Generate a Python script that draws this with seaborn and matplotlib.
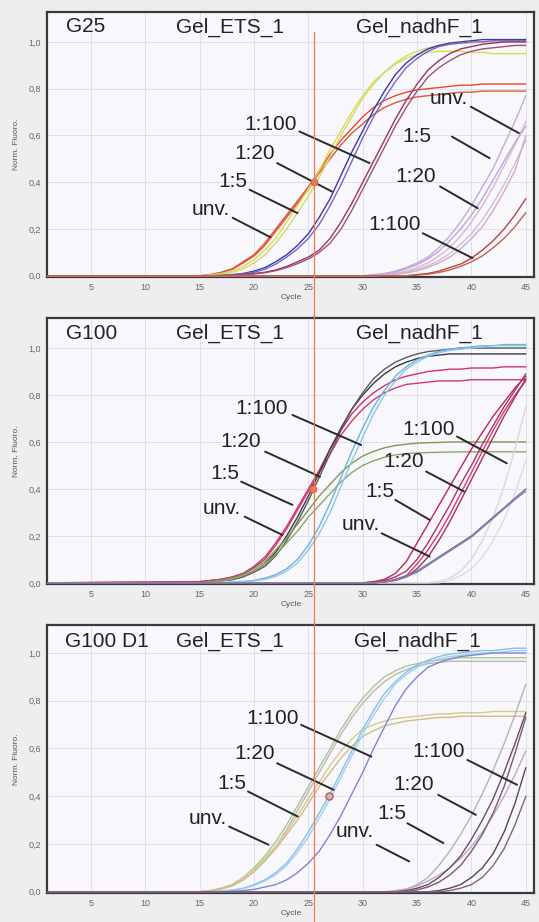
import matplotlib
matplotlib.use("Agg")
import matplotlib.pyplot as plt
from matplotlib.lines import Line2D
from matplotlib.transforms import blended_transform_factory
import pandas as pd
import seaborn as sns

# ---------------- data ----------------
ETS_CYCLES = list(range(15, 46))      # cycles for Gel_ETS_1 curves
NAD_CYCLES = list(range(30, 46))      # cycles for Gel_nadhF_1 curves
BASE_CYCLE = 1                        # flat baseline before the listed cycles

X_TICKS = [5, 10, 15, 20, 25, 30, 35, 40, 45]
Y_TICKS = [0.0, 0.2, 0.4, 0.6, 0.8, 1.0]
Y_TICK_LABELS = ["0,0", "0,2", "0,4", "0,6", "0,8", "1,0"]
THRESHOLD_CYCLE = 25.55
DILUTIONS = ["1:100", "1:20", "1:5", "unv."]

# ---- G25 ----
g25_ets_unv_a = [0.00, 0.005, 0.015, 0.03, 0.06, 0.09, 0.14, 0.20, 0.26, 0.32, 0.38, 0.45, 0.52, 0.58, 0.63, 0.68, 0.72, 0.75, 0.77, 0.785, 0.795, 0.80, 0.805, 0.81, 0.815, 0.815, 0.82, 0.82, 0.82, 0.82, 0.82]
g25_ets_unv_b = [0.00, 0.005, 0.013, 0.028, 0.055, 0.085, 0.13, 0.19, 0.25, 0.31, 0.37, 0.44, 0.50, 0.56, 0.61, 0.65, 0.69, 0.72, 0.74, 0.755, 0.765, 0.77, 0.775, 0.78, 0.785, 0.785, 0.79, 0.79, 0.79, 0.79, 0.79]
g25_ets_15_a = [0.00, 0.003, 0.01, 0.02, 0.04, 0.07, 0.11, 0.16, 0.23, 0.30, 0.37, 0.45, 0.54, 0.62, 0.70, 0.77, 0.83, 0.87, 0.905, 0.93, 0.945, 0.955, 0.96, 0.96, 0.96, 0.955, 0.955, 0.95, 0.95, 0.95, 0.95]
g25_ets_15_b = [0.00, 0.002, 0.007, 0.015, 0.03, 0.055, 0.09, 0.14, 0.20, 0.27, 0.34, 0.42, 0.51, 0.60, 0.68, 0.76, 0.82, 0.87, 0.91, 0.94, 0.96, 0.975, 0.985, 0.99, 0.995, 0.995, 1.0, 1.0, 1.0, 1.0, 1.0]
g25_ets_120_a = [0.00, 0.00, 0.002, 0.005, 0.01, 0.02, 0.035, 0.06, 0.09, 0.13, 0.18, 0.25, 0.33, 0.43, 0.53, 0.62, 0.71, 0.79, 0.86, 0.91, 0.945, 0.97, 0.985, 0.995, 1.0, 1.005, 1.01, 1.01, 1.01, 1.01, 1.01]
g25_ets_120_b = [0.00, 0.00, 0.001, 0.004, 0.008, 0.015, 0.028, 0.05, 0.08, 0.115, 0.16, 0.22, 0.30, 0.39, 0.49, 0.59, 0.68, 0.76, 0.83, 0.89, 0.93, 0.96, 0.98, 0.99, 0.995, 1.0, 1.0, 1.005, 1.005, 1.005, 1.005]
g25_ets_1100_a = [0.00, 0.00, 0.00, 0.002, 0.005, 0.01, 0.015, 0.025, 0.04, 0.06, 0.08, 0.11, 0.16, 0.23, 0.31, 0.40, 0.49, 0.58, 0.67, 0.75, 0.82, 0.88, 0.92, 0.95, 0.97, 0.98, 0.99, 0.995, 1.0, 1.0, 1.0]
g25_ets_1100_b = [0.00, 0.00, 0.00, 0.002, 0.004, 0.008, 0.013, 0.022, 0.035, 0.052, 0.072, 0.10, 0.14, 0.20, 0.28, 0.37, 0.46, 0.55, 0.64, 0.72, 0.79, 0.85, 0.89, 0.92, 0.945, 0.96, 0.97, 0.975, 0.98, 0.985, 0.985]
g25_nad_a = [0.0, 0.005, 0.01, 0.02, 0.035, 0.055, 0.08, 0.12, 0.17, 0.23, 0.30, 0.38, 0.46, 0.56, 0.66, 0.77]
g25_nad_b = [0.0, 0.0, 0.005, 0.01, 0.02, 0.035, 0.055, 0.085, 0.12, 0.17, 0.23, 0.30, 0.38, 0.47, 0.56, 0.66]
g25_nad_c = [0.0, 0.003, 0.008, 0.016, 0.03, 0.048, 0.072, 0.105, 0.15, 0.20, 0.26, 0.33, 0.41, 0.49, 0.57, 0.64]
g25_nad_d = [0.0, 0.0, 0.003, 0.008, 0.015, 0.027, 0.043, 0.065, 0.095, 0.135, 0.18, 0.24, 0.31, 0.39, 0.48, 0.58]
g25_nad_e = [0.0, 0.0, 0.002, 0.006, 0.012, 0.022, 0.036, 0.055, 0.08, 0.115, 0.16, 0.21, 0.28, 0.36, 0.45, 0.60]
g25_nad_1100_a = [0.0, 0.0, 0.0, 0.0, 0.0, 0.005, 0.01, 0.02, 0.035, 0.05, 0.075, 0.11, 0.15, 0.20, 0.26, 0.33]
g25_nad_1100_b = [0.0, 0.0, 0.0, 0.0, 0.0, 0.003, 0.007, 0.014, 0.025, 0.04, 0.06, 0.085, 0.12, 0.16, 0.21, 0.27]

# ---- G100 ----
g100_ets_pink_a = [0.005, 0.01, 0.015, 0.025, 0.04, 0.07, 0.11, 0.17, 0.24, 0.32, 0.40, 0.48, 0.57, 0.65, 0.72, 0.77, 0.81, 0.84, 0.865, 0.88, 0.89, 0.90, 0.905, 0.91, 0.91, 0.915, 0.915, 0.915, 0.92, 0.92, 0.92]
g100_ets_pink_b = [0.005, 0.01, 0.015, 0.025, 0.04, 0.065, 0.10, 0.16, 0.23, 0.31, 0.39, 0.47, 0.55, 0.63, 0.69, 0.74, 0.78, 0.81, 0.83, 0.845, 0.85, 0.855, 0.86, 0.86, 0.86, 0.865, 0.865, 0.865, 0.865, 0.865, 0.865]
g100_ets_black_a = [0.0, 0.005, 0.01, 0.015, 0.03, 0.05, 0.08, 0.13, 0.20, 0.28, 0.37, 0.47, 0.57, 0.66, 0.74, 0.80, 0.85, 0.89, 0.92, 0.94, 0.955, 0.965, 0.97, 0.975, 0.975, 0.975, 0.975, 0.975, 0.975, 0.975, 0.975]
g100_ets_black_b = [0.0, 0.004, 0.008, 0.013, 0.025, 0.045, 0.07, 0.115, 0.18, 0.26, 0.35, 0.45, 0.55, 0.65, 0.74, 0.81, 0.87, 0.91, 0.94, 0.96, 0.975, 0.985, 0.99, 0.995, 1.0, 1.0, 1.0, 1.0, 1.0, 1.0, 1.0]
g100_ets_green_a = [0.0, 0.005, 0.01, 0.02, 0.035, 0.06, 0.09, 0.14, 0.19, 0.25, 0.31, 0.37, 0.42, 0.47, 0.51, 0.54, 0.56, 0.575, 0.585, 0.59, 0.595, 0.597, 0.598, 0.6, 0.6, 0.6, 0.6, 0.6, 0.6, 0.6, 0.6]
g100_ets_green_b = [0.0, 0.004, 0.008, 0.016, 0.03, 0.05, 0.08, 0.12, 0.17, 0.22, 0.28, 0.33, 0.38, 0.43, 0.47, 0.50, 0.52, 0.535, 0.545, 0.55, 0.553, 0.555, 0.556, 0.557, 0.558, 0.558, 0.558, 0.558, 0.558, 0.558, 0.558]
g100_ets_blue_a = [0.0, 0.0, 0.0, 0.003, 0.006, 0.01, 0.02, 0.035, 0.06, 0.10, 0.16, 0.24, 0.34, 0.45, 0.56, 0.66, 0.75, 0.82, 0.88, 0.92, 0.95, 0.97, 0.985, 0.995, 1.0, 1.005, 1.01, 1.01, 1.015, 1.015, 1.015]
g100_ets_blue_b = [0.0, 0.0, 0.0, 0.002, 0.005, 0.008, 0.015, 0.028, 0.05, 0.085, 0.14, 0.21, 0.30, 0.41, 0.52, 0.62, 0.72, 0.80, 0.86, 0.91, 0.94, 0.965, 0.98, 0.99, 0.995, 1.0, 1.005, 1.01, 1.01, 1.01, 1.01]
g100_nad_red_a = [0.0, 0.005, 0.015, 0.04, 0.09, 0.17, 0.25, 0.33, 0.41, 0.49, 0.57, 0.64, 0.71, 0.77, 0.83, 0.88]
g100_nad_red_b = [0.0, 0.003, 0.01, 0.025, 0.05, 0.10, 0.17, 0.25, 0.33, 0.42, 0.50, 0.59, 0.67, 0.75, 0.82, 0.89]
g100_nad_red_c = [0.0, 0.0, 0.005, 0.012, 0.03, 0.08, 0.14, 0.21, 0.29, 0.38, 0.47, 0.56, 0.65, 0.73, 0.80, 0.86]
g100_nad_red_d = [0.0, 0.0, 0.004, 0.01, 0.025, 0.06, 0.11, 0.18, 0.26, 0.35, 0.44, 0.53, 0.62, 0.71, 0.79, 0.87]
g100_nad_gray_a = [0.0, 0.0, 0.005, 0.015, 0.03, 0.05, 0.08, 0.11, 0.14, 0.17, 0.20, 0.24, 0.28, 0.32, 0.36, 0.40]
g100_nad_gray_b = [0.0, 0.0, 0.004, 0.012, 0.025, 0.045, 0.075, 0.105, 0.135, 0.165, 0.195, 0.235, 0.275, 0.315, 0.355, 0.39]
g100_nad_faint_a = [0.0, 0.0, 0.0, 0.0, 0.0, 0.0, 0.0, 0.005, 0.02, 0.05, 0.10, 0.18, 0.28, 0.41, 0.57, 0.75]
g100_nad_faint_b = [0.0, 0.0, 0.0, 0.0, 0.0, 0.0, 0.0, 0.0, 0.01, 0.03, 0.06, 0.11, 0.18, 0.27, 0.38, 0.52]

# ---- G100 D1 ----
d1_ets_green_a = [0.0, 0.005, 0.015, 0.03, 0.06, 0.10, 0.15, 0.21, 0.28, 0.36, 0.44, 0.52, 0.60, 0.68, 0.75, 0.81, 0.86, 0.90, 0.925, 0.945, 0.955, 0.965, 0.97, 0.975, 0.98, 0.98, 0.98, 0.98, 0.98, 0.98, 0.98]
d1_ets_gray_b = [0.0, 0.004, 0.012, 0.025, 0.05, 0.085, 0.13, 0.19, 0.26, 0.34, 0.42, 0.50, 0.58, 0.66, 0.73, 0.79, 0.84, 0.88, 0.91, 0.93, 0.945, 0.955, 0.96, 0.965, 0.965, 0.965, 0.965, 0.965, 0.965, 0.965, 0.965]
d1_ets_tan_a = [0.0, 0.005, 0.015, 0.03, 0.06, 0.095, 0.14, 0.19, 0.25, 0.32, 0.39, 0.46, 0.53, 0.59, 0.64, 0.68, 0.70, 0.715, 0.725, 0.73, 0.735, 0.74, 0.745, 0.745, 0.75, 0.75, 0.75, 0.755, 0.755, 0.755, 0.755]
d1_ets_tan_b = [0.0, 0.004, 0.012, 0.025, 0.05, 0.085, 0.13, 0.18, 0.24, 0.30, 0.37, 0.44, 0.50, 0.56, 0.61, 0.65, 0.675, 0.695, 0.705, 0.715, 0.72, 0.725, 0.73, 0.73, 0.735, 0.735, 0.735, 0.735, 0.735, 0.735, 0.735]
d1_ets_blue_a = [0.0, 0.0, 0.003, 0.007, 0.015, 0.03, 0.05, 0.08, 0.12, 0.18, 0.25, 0.33, 0.41, 0.50, 0.59, 0.68, 0.76, 0.83, 0.88, 0.92, 0.95, 0.97, 0.985, 0.995, 1.0, 1.005, 1.01, 1.01, 1.015, 1.02, 1.02]
d1_ets_blue_b = [0.0, 0.0, 0.002, 0.006, 0.013, 0.026, 0.045, 0.072, 0.11, 0.165, 0.23, 0.31, 0.39, 0.48, 0.57, 0.66, 0.74, 0.81, 0.87, 0.91, 0.94, 0.96, 0.975, 0.985, 0.99, 0.995, 1.0, 1.0, 1.005, 1.01, 1.01]
d1_ets_peri = [0.0, 0.0, 0.0, 0.002, 0.005, 0.01, 0.02, 0.03, 0.05, 0.08, 0.12, 0.17, 0.24, 0.32, 0.41, 0.50, 0.60, 0.69, 0.78, 0.85, 0.90, 0.94, 0.96, 0.975, 0.985, 0.99, 0.995, 1.0, 1.0, 1.0, 1.0]
d1_nad_a = [0.0, 0.0, 0.0, 0.0, 0.01, 0.03, 0.06, 0.11, 0.17, 0.24, 0.32, 0.41, 0.51, 0.62, 0.74, 0.87]
d1_nad_b = [0.0, 0.0, 0.0, 0.0, 0.005, 0.015, 0.03, 0.06, 0.10, 0.15, 0.22, 0.30, 0.39, 0.50, 0.62, 0.75]
d1_nad_c = [0.0, 0.0, 0.0, 0.0, 0.0, 0.008, 0.02, 0.04, 0.07, 0.11, 0.17, 0.24, 0.33, 0.44, 0.58, 0.73]
d1_nad_d = [0.0, 0.0, 0.0, 0.0, 0.0, 0.0, 0.0, 0.005, 0.015, 0.03, 0.06, 0.10, 0.16, 0.25, 0.37, 0.52]
d1_nad_e = [0.0, 0.0, 0.0, 0.0, 0.0, 0.0, 0.0, 0.0, 0.005, 0.015, 0.03, 0.06, 0.11, 0.18, 0.28, 0.40]
d1_nad_f = [0.0, 0.0, 0.0, 0.005, 0.012, 0.025, 0.045, 0.07, 0.10, 0.14, 0.19, 0.25, 0.32, 0.40, 0.49, 0.59]

# threshold-crossing markers (cycle, value)
marker_cycles = [25.5, 25.45, 26.9]
marker_values = [0.40, 0.40, 0.40]

# ---------------- styles ----------------
panels = [
    dict(title="G25", ets=[(g25_ets_unv_a, "#e8482c"), (g25_ets_unv_b, "#d65a3e"),
                           (g25_ets_15_a, "#dcdc48"), (g25_ets_15_b, "#d2d870"),
                           (g25_ets_120_a, "#3a3aa8"), (g25_ets_120_b, "#7868c8"),
                           (g25_ets_1100_a, "#9a3466"), (g25_ets_1100_b, "#a05080")],
         nad=[(g25_nad_a, "#c8a8dc"), (g25_nad_b, "#e0b4cc"), (g25_nad_c, "#b8a8e0"),
              (g25_nad_d, "#dcb8d8"), (g25_nad_e, "#c8b0c8"),
              (g25_nad_1100_a, "#b8443c"), (g25_nad_1100_b, "#c86050")]),
    dict(title="G100", ets=[(g100_ets_pink_a, "#d6306a"), (g100_ets_pink_b, "#cc3a74"),
                            (g100_ets_black_a, "#3c3c3c"), (g100_ets_black_b, "#5a5a5a"),
                            (g100_ets_green_a, "#7c9a52"), (g100_ets_green_b, "#8aa862"),
                            (g100_ets_blue_a, "#6ab4e0"), (g100_ets_blue_b, "#8cc8ea")],
         nad=[(g100_nad_faint_a, "#dcd4e4"), (g100_nad_faint_b, "#e0d8e6"),
              (g100_nad_red_a, "#c42454"), (g100_nad_red_b, "#b03462"),
              (g100_nad_red_c, "#d0406e"), (g100_nad_red_d, "#a8305a"),
              (g100_nad_gray_a, "#6e6e9e"), (g100_nad_gray_b, "#8484b0")]),
    dict(title="G100 D1", ets=[(d1_ets_green_a, "#a8c890"), (d1_ets_gray_b, "#b8b8b8"),
                               (d1_ets_tan_a, "#d8c890"), (d1_ets_tan_b, "#d0bc84"),
                               (d1_ets_blue_a, "#86c0e6"), (d1_ets_blue_b, "#a0d0ee"),
                               (d1_ets_peri, "#7c86d4")],
         nad=[(d1_nad_a, "#b8b0bc"), (d1_nad_f, "#c0a8c0"), (d1_nad_b, "#6a4c6a"),
              (d1_nad_c, "#7a5a78"), (d1_nad_d, "#5c445c"), (d1_nad_e, "#806480")]),
]

label_sets = [
    # (text, text_x, text_y, line_start, line_end)
    [("1:100", 19.1, 0.645, (24.17, 0.617), (30.63, 0.482)),
     ("1:20", 18.2, 0.524, (22.12, 0.482), (27.17, 0.360)),
     ("1:5", 16.7, 0.403, (19.59, 0.368), (24.0, 0.268)),
     ("unv.", 14.3, 0.282, (18.03, 0.248), (21.51, 0.165)),
     ("unv.", 36.15, 0.759, (39.94, 0.723), (44.36, 0.610)),
     ("1:5", 33.6, 0.595, (38.21, 0.595), (41.67, 0.503)),
     ("1:20", 33.0, 0.424, (37.11, 0.382), (40.57, 0.289)),
     ("1:100", 30.5, 0.218, (35.52, 0.182), (40.09, 0.076))],
    [("1:100", 18.3, 0.743, (23.53, 0.715), (29.85, 0.587)),
     ("1:20", 16.9, 0.601, (21.02, 0.559), (26.06, 0.452)),
     ("1:5", 16.0, 0.467, (18.81, 0.431), (23.53, 0.332)),
     ("unv.", 15.3, 0.318, (19.13, 0.282), (22.6, 0.204)),
     ("1:100", 33.6, 0.651, (38.67, 0.623), (43.25, 0.509)),
     ("1:20", 31.9, 0.516, (35.83, 0.474), (39.31, 0.389)),
     ("1:5", 30.2, 0.389, (33.0, 0.353), (36.16, 0.268)),
     ("unv.", 28.1, 0.247, (31.73, 0.211), (36.16, 0.112))],
    [("1:100", 19.3, 0.727, (24.33, 0.699), (30.79, 0.566)),
     ("1:20", 18.2, 0.580, (22.12, 0.538), (27.32, 0.427)),
     ("1:5", 16.6, 0.455, (19.44, 0.42), (24.02, 0.315)),
     ("unv.", 14.0, 0.308, (17.71, 0.273), (21.33, 0.197)),
     ("1:100", 34.6, 0.587, (39.62, 0.552), (44.19, 0.448)),
     ("1:20", 32.8, 0.448, (36.94, 0.406), (40.41, 0.322)),
     ("1:5", 31.3, 0.329, (34.1, 0.287), (37.41, 0.204)),
     ("unv.", 27.5, 0.252, (31.27, 0.197), (34.27, 0.127))],
]

title_pos = [(2.7, 1.064), (2.7, 1.064), (2.6, 1.048)]
ets_title_x = [12.8, 12.8, 12.8]
nad_title_x = [29.4, 29.4, 29.2]
ylims = [(-0.005, 1.128), (-0.005, 1.128), (-0.005, 1.117)]
axes_rects = [
    [0.0881, 0.6996, 0.9026, 0.2874],
    [0.0881, 0.3666, 0.9026, 0.2885],
    [0.0881, 0.0315, 0.9026, 0.2906],
]

sns.set_theme(style="white")
FONT = ["Liberation Sans", "DejaVu Sans"]
plt.rcParams["font.family"] = FONT

fig = plt.figure(figsize=(5.39, 9.22), dpi=100)
fig.patch.set_facecolor("#eceef0")

axes = []
for i, p in enumerate(panels):
    ax = fig.add_axes(axes_rects[i])
    axes.append(ax)
    ax.set_facecolor("#f8f7fb")
    rows = []
    k = 0
    palette = {}
    for vals, col in p["ets"]:
        name = f"e{k}"
        palette[name] = col
        rows.append(dict(cycle=BASE_CYCLE, value=0.0, curve=name))
        rows += [dict(cycle=c, value=v, curve=name) for c, v in zip(ETS_CYCLES, vals)]
        k += 1
    for vals, col in p["nad"]:
        name = f"n{k}"
        palette[name] = col
        rows.append(dict(cycle=BASE_CYCLE, value=0.0, curve=name))
        rows += [dict(cycle=c, value=v, curve=name) for c, v in zip(NAD_CYCLES, vals)]
        k += 1
    df = pd.DataFrame(rows)
    sns.lineplot(data=df, x="cycle", y="value", hue="curve", palette=palette,
                 hue_order=list(palette.keys()), estimator=None, units="curve",
                 linewidth=1.0, legend=False, ax=ax, zorder=3)

    ax.set_xlim(1.0, 45.75)
    ax.set_ylim(*ylims[i])
    ax.set_xticks(X_TICKS)
    ax.set_xticklabels([str(t) for t in X_TICKS], fontsize=6.5, color="#555555")
    ax.set_yticks(Y_TICKS)
    ax.set_yticklabels(Y_TICK_LABELS, fontsize=6.5, color="#555555")
    ax.tick_params(axis="both", length=2.5, width=0.6, colors="#666666", pad=2)
    ax.grid(True, color="#dcdce6", linewidth=0.6, zorder=0)
    ax.set_axisbelow(True)
    for s in ax.spines.values():
        s.set_linewidth(1.6)
        s.set_color("#3a3a3a")
    ax.set_xlabel("Cycle", fontsize=6, color="#555555", labelpad=1)
    ax.set_ylabel("Norm. Fluoro.", fontsize=6, color="#555555", labelpad=6)

    tx, ty = title_pos[i]
    ax.text(tx, ty, p["title"], fontsize=15, color="#222222", va="center", ha="left")
    ax.text(ets_title_x[i], ty, "Gel_ETS_1", fontsize=15, color="#222222", va="center", ha="left")
    ax.text(nad_title_x[i], ty, "Gel_nadhF_1", fontsize=15, color="#222222", va="center", ha="left")

    for txt, lx, ly, a, b in label_sets[i]:
        ax.text(lx, ly, txt, fontsize=15, color="#222222", va="center", ha="left", zorder=6)
        ax.annotate("", xy=b, xytext=a,
                    arrowprops=dict(arrowstyle="-", lw=1.4, color="#2a2a2a",
                                    shrinkA=0, shrinkB=0), zorder=6)

# threshold markers
for i, ax in enumerate(axes):
    if i < 2:
        ax.scatter([marker_cycles[i]], [marker_values[i]], s=22, color="#f07848",
                   edgecolor="#e86040", linewidth=0.8, zorder=7)
    else:
        ax.scatter([marker_cycles[i]], [marker_values[i]], s=26, facecolor="#9ccbe8",
                   edgecolor="#e85040", linewidth=1.1, zorder=7)

# vertical threshold line spanning all panels
tr = blended_transform_factory(axes[0].transData, fig.transFigure)
fig.add_artist(Line2D([THRESHOLD_CYCLE, THRESHOLD_CYCLE], [0.965, 0.0], transform=tr,
                      color="#f07a5a", linewidth=0.9, zorder=10))

fig.savefig("out.png", dpi=100, facecolor=fig.get_facecolor())
